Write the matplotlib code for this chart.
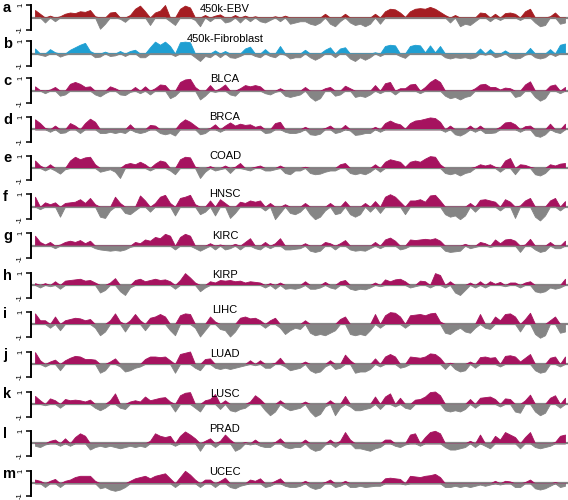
import matplotlib
matplotlib.use("Agg")
import matplotlib.pyplot as plt
import numpy as np

plt.rcParams['font.family'] = ['Liberation Sans', 'DejaVu Sans']

# panel letters and names
letters = ['a', 'b', 'c', 'd', 'e', 'f', 'g', 'h', 'i', 'j', 'k', 'l', 'm']
names = ['450k-EBV', '450k-Fibroblast', 'BLCA', 'BRCA', 'COAD', 'HNSC', 'KIRC',
         'KIRP', 'LIHC', 'LUAD', 'LUSC', 'PRAD', 'UCEC']

# values, one per 5 px step along the genome axis
ebv = [0.6, 0.3, -0.4, 0.15, -0.3, 0.1, 0.3, 0.4, 0.35, 0.5, 0.45, 0.6, 0.1, -0.9, -0.5, 0.4, 0.45, -0.1,
       -0.35, 0.2, 0.7, 0.95, 0.5, -0.6, 0.4, 0.55, 1.0, -0.3, -0.6, 0.7, 0.95, 0.8, -0.2, -0.7, 0.2, -0.3,
       0.15, 0.25, -0.4, -0.3, 0.2, -0.4, 0.15, -0.3, 0.1, -0.3, -0.4, -0.2, 0.1, -0.3, 0.15, -0.5, -0.4, -0.3,
       -0.3, -0.5, -0.6, -0.4, 0.3, -0.5, -0.7, -0.3, 0.3, -0.4, -0.6, -0.5, -0.7, -0.5, 0.3, -0.5, 0.5, 0.7,
       0.65, 0.4, 0.05, 0.5, 0.7, 0.75, 0.7, 0.85, 0.7, 0.45, 0.2, -0.4, 0.2, -0.7, -0.5, -0.6, -0.3, 0.4, 0.35,
       -0.3, 0.3, -0.2, 0.35, 0.4, 0.3, -0.2, 0.5, 0.7, -0.4, -0.7, -0.6, 0.1, 0.4, -0.5, -0.4]
fibro = [0.4, -0.1, -0.2, 0.35, 0.1, -0.25, -0.1, 0.3, 0.5, 0.7, 0.85, 0.2, -0.3, -0.25, 0.15, -0.2, -0.15, 0.2,
         -0.2, 0.2, 0.3, -0.3, -0.3, 0.5, 0.95, 0.7, 0.95, 0.6, -0.2, 0.9, 0.95, 0.9, -0.3, -0.6, -0.2, -0.3,
         0.25, -0.3, 0.2, -0.3, -0.35, -0.2, 0.4, 0.55, -0.2, -0.3, 0.35, -0.2, -0.3, 0.6, -0.1, -0.4, -0.3, -0.3,
         0.3, -0.3, -0.5, -0.3, 0.3, 0.5, -0.3, 0.4, 0.5, -0.4, -0.6, -0.3, -0.5, -0.3, 0.1, -0.2, 0.6, 0.7,
         0.65, -0.2, -0.35, 0.6, 0.7, 0.65, 0.1, 0.65, 0.1, 0.6, -0.3, -0.4, -0.3, -0.35, -0.3, -0.4, -0.3, 0.4,
         -0.1, 0.35, -0.3, -0.2, 0.25, -0.3, -0.4, -0.35, -0.1, 0.45, -0.3, -0.4, -0.3, 0.35, -0.2, 0.7, 0.8]
blca = [0.35, 0.05, -0.2, 0.1, 0.3, -0.4, -0.3, 0.55, 0.7, 0.55, 0.3, 0.35, -0.3, -0.45, -0.2, 0.35, 0.2, -0.3,
        -0.35, -0.1, 0.3, -0.2, 0.35, -0.3, 0.2, 0.5, 0.45, -0.6, -0.4, 0.7, 0.9, 0.95, 0.3, -0.7, -0.4, 0.45,
        -0.1, 0.2, 0.5, -0.3, -0.4, 0.2, 0.45, 0.35, 0.45, 0.35, -0.2, -0.3, -0.1, 0.2, -0.4, -0.5, -0.4, -0.3,
        0.3, -0.5, -0.8, -0.6, 0.2, 0.3, -0.4, -0.3, 0.4, 0.2, -0.5, -0.4, -0.5, -0.3, 0.45, -0.2, 0.6, 0.7,
        -0.3, 0.2, 0.2, 0.5, 0.55, -0.2, 0.3, 0.7, 0.95, 0.7, -0.4, -0.6, -0.5, -0.7, -0.5, -0.4, 0.2, 0.5,
        0.55, 0.3, 0.3, 0.1, 0.25, 0.2, -0.5, -0.4, 0.5, 0.75, -0.5, -0.8, -0.6, 0.4, 0.5, -0.2, 0.3]
brca = [0.8, 0.5, 0.1, -0.2, 0.3, -0.3, -0.25, 0.5, 0.3, -0.3, 0.5, 0.85, 0.6, -0.3, -0.3, -0.2, -0.3, -0.2,
        -0.3, 0.4, -0.2, -0.3, -0.2, 0.35, 0.3, -0.3, -0.4, -0.3, -0.5, 0.5, 0.8, 0.6, 0.3, -0.4, -0.3, 0.1,
        0.4, -0.2, 0.3, 0.55, 0.3, 0.45, 0.35, 0.4, 0.2, 0.3, -0.3, -0.25, 0.5, 0.6, -0.2, -0.3, -0.3, -0.2,
        0.2, -0.4, -0.45, -0.35, 0.1, 0.3, -0.3, -0.2, 0.35, -0.1, -0.45, -0.4, -0.3, -0.3, 0.2, -0.2, 0.5, 0.7,
        0.5, 0.4, 0.05, 0.5, 0.7, 0.75, 0.85, 0.95, 0.9, 0.6, -0.2, 0.3, -0.4, -0.5, -0.3, 0.3, -0.2, 0.3,
        -0.3, -0.3, -0.25, 0.2, 0.55, 0.6, 0.4, -0.2, 0.25, 0.3, -0.5, -0.6, -0.4, 0.45, -0.2, -0.3, 0.45]
coad = [0.6, 0.2, -0.2, 0.3, -0.2, -0.45, -0.1, 0.6, 0.9, 0.7, 0.85, 0.9, 0.3, -0.3, -0.2, -0.1, -0.3, -0.8,
        0.3, 0.4, 0.3, 0.5, 0.3, -0.2, 0.35, 0.6, 0.5, -0.2, -0.5, 0.7, 0.9, 0.85, 0.1, -0.8, -0.3, 0.15,
        -0.2, -0.1, 0.2, -0.4, 0.1, 0.4, -0.1, -0.2, 0.1, 0.2, -0.2, -0.2, -0.1, 0.2, -0.4, -0.5, -0.2, -0.2,
        0.1, -0.4, -0.5, -0.45, -0.3, -0.2, -0.2, 0.3, 0.4, -0.4, -0.5, -0.4, -0.5, -0.3, 0.3, -0.3, 0.5, 0.7,
        0.6, 0.5, 0.1, 0.5, 0.6, 0.5, 0.75, 0.95, 0.9, 0.3, -0.4, -0.5, -0.4, -0.6, -0.4, -0.3, 0.1, 0.3,
        0.2, 0.3, 0.1, -0.3, 0.6, 0.8, -0.5, 0.3, 0.25, 0.1, -0.5, -0.6, -0.4, 0.3, 0.2, 0.35, 0.4]
hnsc = [0.8, -0.2, 0.35, 0.2, 0.35, -0.8, 0.3, 0.35, 0.4, 0.6, 0.3, 0.7, 0.2, -0.8, -0.9, -0.3, 0.8, 0.3,
        -0.5, -0.6, -0.3, 0.9, 0.5, -0.4, 0.3, 0.8, 0.95, 0.3, -0.7, 0.7, 0.8, 0.95, 0.2, -0.6, -0.4, 0.5,
        -0.7, 0.6, 0.3, -0.9, -0.5, 0.4, 0.3, 0.5, 0.4, 0.5, -0.3, 0.3, -1.0, -0.5, 0.2, -0.5, -0.6, -0.4,
        0.3, -0.6, -1.0, -0.8, -0.3, 0.3, -0.6, -0.5, 0.45, -0.6, -0.8, -0.6, 0.3, -0.4, 0.45, -0.5, 0.8, 1.0,
        0.8, 0.4, -0.6, 0.5, 0.5, 0.6, 0.4, 0.9, 0.95, 0.5, -0.6, -0.8, -0.7, -1.0, -0.7, 0.3, -0.4, 0.55,
        0.6, 0.5, 0.4, -0.3, 0.6, 0.4, -0.9, 0.1, 0.5, 0.7, -0.8, -1.1, -0.7, 0.5, 0.7, -0.3, 0.45]
kirc = [0.8, 0.3, 0.1, 0.3, -0.2, 0.1, 0.3, 0.4, 0.3, 0.45, 0.2, 0.4, -0.2, -0.3, -0.35, -0.4, -0.35, -0.4,
        -0.3, -0.1, 0.3, 0.2, 0.5, 0.4, 0.7, 0.6, 0.95, 0.8, -0.3, 0.7, 0.95, 0.8, -0.2, -0.4, -0.2, 0.2,
        -0.3, 0.1, -0.3, -0.2, 0.15, -0.3, 0.3, 0.6, -0.2, -0.3, 0.3, -0.2, 0.2, 0.6, -0.3, -0.3, -0.25, -0.2,
        0.2, -0.4, -0.5, -0.4, 0.3, 0.2, -0.3, 0.2, 0.45, -0.3, -0.4, -0.35, -0.4, -0.2, 0.3, -0.2, 0.5, 0.65,
        0.4, -0.3, -0.2, 0.5, 0.45, 0.5, 0.55, 0.5, 0.6, 0.4, -0.4, -0.5, -0.45, -0.4, 0.15, -0.2, -0.1, 0.3,
        0.2, -0.1, 0.5, 0.2, 0.5, 0.55, 0.4, -0.5, 0.1, 0.55, -0.3, -0.5, -0.4, 0.3, -0.2, -0.2, 0.4]
kirp = [0.15, -0.2, 0.15, -0.1, 0.3, -0.3, 0.35, 0.4, 0.45, 0.5, 0.35, 0.4, 0.2, -0.6, -0.4, 0.2, 0.55, -0.5,
        -0.8, -0.2, 0.4, 0.5, 0.3, 0.4, 0.5, 0.4, 0.45, 0.3, -0.3, 0.4, 0.95, 0.6, 0.2, -0.5, -0.2, 0.3,
        0.2, 0.4, 0.35, 0.4, 0.3, 0.35, 0.2, 0.3, 0.25, 0.2, -0.2, 0.15, -0.3, 0.2, -0.3, -0.25, -0.3, -0.2,
        0.3, -0.3, -0.3, -0.2, 0.25, -0.2, -0.3, 0.3, 0.4, -0.3, -0.4, -0.3, -0.35, -0.2, 0.2, -0.1, 0.45, 0.3,
        0.45, 0.5, 0.3, -0.2, -0.1, 0.35, 0.3, -0.2, 0.95, 0.8, -0.2, 0.3, -0.6, -0.8, -0.4, 0.2, -0.2, 0.3,
        -0.2, 0.3, 0.1, 0.25, -0.1, 0.2, 0.2, -0.2, 0.2, 0.3, -0.5, -0.6, -0.5, -0.2, -0.3, -0.2, 0.5]
lihc = [0.85, 0.3, 0.3, -0.3, 0.6, -0.5, 0.3, 0.4, 0.5, 0.45, 0.3, 0.4, -0.3, -0.9, -0.6, 0.3, 0.85, 0.2,
        -0.6, 0.3, 0.8, 0.3, -0.5, 0.5, 0.6, 0.8, 0.6, -0.5, -0.9, 0.7, 0.85, 0.8, -0.3, -1.0, -0.5, 0.6,
        0.2, -0.4, -0.5, -1.0, -0.6, 0.5, 0.6, 0.45, 0.5, 0.3, -0.3, 0.3, 0.5, -0.3, -0.8, -0.5, -0.3, -0.4,
        0.3, -0.7, -0.9, -0.8, -0.9, -0.7, -0.5, 0.4, 0.6, -0.8, -0.9, -0.8, -0.9, -0.5, 0.8, -0.3, 0.7, 0.95,
        0.9, 0.6, -0.3, 0.7, 0.75, 0.8, 0.7, 0.85, 0.9, 0.2, -0.7, -0.8, -0.5, -0.3, -0.6, -0.7, -0.3, 0.8,
        -0.3, -0.4, 0.6, 0.3, 0.8, 0.85, 0.6, -0.6, 0.4, 0.9, -0.8, -1.1, -0.9, 0.3, 0.6, -0.7, -0.6]
luad = [0.95, 0.3, -0.2, 0.2, 0.35, -0.5, 0.3, 0.5, 0.65, 0.6, 0.4, 0.4, 0.35, -0.7, -0.5, 0.2, 0.45, -0.2,
        -0.6, -0.5, -0.3, -0.2, 0.4, 0.6, 0.6, 0.55, 0.6, 0.3, -0.7, 0.8, 0.9, 1.0, -0.3, -0.5, 0.4, 0.45,
        -0.3, -0.4, -0.3, -0.4, -0.3, -0.2, -0.1, 0.3, -0.1, 0.3, -0.3, -0.3, 0.1, 0.5, -0.2, -0.5, -0.4, -0.3,
        0.2, -0.5, -0.7, -0.6, -0.2, 0.3, -0.4, -0.3, 0.75, 0.3, -0.7, -0.6, -0.6, -0.4, 0.45, -0.2, 0.6, 0.8,
        0.6, -0.3, -0.2, 0.6, 0.55, 0.5, 0.6, 0.85, 0.8, 0.5, -0.4, 0.1, -0.4, -0.6, -0.5, 0.2, -0.3, 0.55,
        0.6, 0.5, 0.55, -0.2, 0.65, 0.7, 0.6, 0.2, 0.5, 0.8, -0.5, -0.7, -0.6, 0.5, 0.6, -0.2, 0.6]
lusc = [0.65, 0.3, -0.1, 0.45, 0.3, -0.3, 0.4, 0.3, 0.35, 0.3, 0.2, 0.35, -0.3, -0.5, -0.3, 0.3, 0.85, -0.3,
        -0.4, 0.2, 0.3, 0.2, 0.6, 0.3, 0.4, 0.5, 0.55, 0.2, -0.6, 0.7, 0.9, 0.95, -0.3, -0.6, 0.3, 0.4,
        0.8, -0.4, 0.3, -0.5, -0.6, -0.4, -0.3, 0.2, 0.7, 0.4, -0.5, -0.9, -0.6, 0.3, -0.3, -0.5, -0.4, -0.3,
        0.2, -0.6, -1.0, -0.8, -0.2, 0.3, -0.9, -0.3, 0.65, -0.2, -0.5, -0.5, -0.4, -0.3, 0.6, -0.4, 0.6, 0.85,
        -0.2, 0.5, -0.3, -0.4, 0.35, 0.4, 0.6, 0.95, 1.0, 0.7, -0.5, -0.6, -0.5, -0.6, -0.4, 0.4, -0.3, 0.5,
        0.55, 0.6, 0.4, -0.2, 0.45, 0.4, -0.6, -0.7, 0.3, 0.75, -0.6, -0.9, -0.7, 0.5, 0.7, -0.3, 0.5]
prad = [-0.2, -0.3, -0.1, 0.2, 0.3, -0.2, 0.4, -0.2, 0.5, 0.8, 0.6, -0.5, -0.3, -0.2, -0.3, -0.2, -0.3, -0.4,
        -0.3, -0.2, -0.3, -0.2, -0.3, 0.2, 0.8, 0.6, 0.5, 0.6, -0.2, 0.6, 0.95, 0.7, 0.4, -0.6, 0.2, 0.4,
        -0.3, 0.2, 0.7, 0.3, -0.6, -0.4, 0.1, -0.1, 0.3, -0.2, -0.3, -0.3, 0.1, 0.4, -0.3, -0.4, -0.3, -0.3,
        0.3, -0.4, -0.6, -0.5, -0.1, 0.3, -0.3, 0.2, 0.9, 0.3, -0.4, -0.4, -0.5, -0.6, -0.4, -0.3, 0.3, 0.3,
        -0.2, -0.3, -0.1, 0.7, 0.8, -0.2, 0.5, 0.9, 1.0, 0.8, -0.3, -0.5, -0.5, -0.4, -0.3, 0.2, -0.3, 0.7,
        -0.2, -0.4, 0.6, 0.3, 0.9, 0.7, 0.5, -0.4, 0.5, 0.9, -0.3, -0.4, -0.3, -0.2, 0.1, 0.6, 0.7]
ucec = [0.3, 0.2, -0.3, 0.2, 0.35, -0.3, 0.2, 0.3, 0.5, 0.6, 0.6, 0.6, 0.2, -0.4, -0.3, -0.5, -0.6, -0.5,
        -0.3, 0.2, 0.4, 0.5, 0.6, 0.4, 0.6, 0.7, 0.8, 0.4, -0.3, 0.5, 1.0, 0.7, 0.3, -0.3, 0.3, 0.3,
        -0.3, 0.2, 0.45, -0.3, -0.4, -0.2, -0.1, 0.3, 0.2, 0.4, -0.3, -0.2, 0.2, 0.4, -0.2, -0.3, -0.3, -0.2,
        0.2, -0.3, -0.45, -0.35, 0.1, 0.3, -0.3, -0.2, 0.2, -0.3, -0.3, -0.2, -0.3, -0.25, -0.2, -0.2, 0.4, 0.45,
        0.4, 0.35, -0.1, 0.6, 0.55, 0.5, 0.6, 0.65, 0.75, 0.5, -0.3, -0.3, -0.2, -0.3, -0.2, -0.3, -0.2, -0.1,
        -0.2, -0.1, 0.2, -0.1, 0.2, 0.15, -0.3, -0.3, 0.1, 0.3, -0.4, -0.5, -0.4, -0.2, 0.1, -0.3, -0.2]

series = [ebv, fibro, blca, brca, coad, hnsc, kirc, kirp, lihc, luad, lusc, prad, ucec]
pos_colors = ['#a51d22', '#1f9fd2'] + ['#a6135f'] * 11
neg_color = '#858585'

# layout: baseline of each panel (px from top) and where the name sits (data units)
baselines = [17.5, 53.5, 90.7, 129.3, 168, 206.7, 245.7, 285, 324, 364, 404, 443.3, 483.3]
title_y = [0.44, 0.92, 0.7, 0.74, 0.72, 0.78, 0.54, 0.56, 0.88, 0.56, 0.56, 0.9, 0.66]
W, H = 568, 500
px_per_unit = 12.5
half = 1.3
left_px = 31

fig = plt.figure(figsize=(W / 100, H / 100), dpi=100)

for letter, name, vals, col, base, ty in zip(letters, names, series, pos_colors, baselines, title_y):
    v = np.array(vals)
    x = np.arange(len(v))
    top = base - half * px_per_unit
    ax = fig.add_axes([left_px / W, (H - top - 2 * half * px_per_unit) / H, (W - left_px) / W,
                       2 * half * px_per_unit / H])
    ax.axhline(0, color=neg_color, lw=1.6, zorder=1)
    # positive and negative parts drawn separately so each bump keeps its width
    ax.fill_between(x, np.clip(v, 0, None), 0, color=col, lw=0.6, ec=col, zorder=2)
    ax.fill_between(x, np.clip(v, None, 0), 0, color=neg_color, lw=0.6, ec=neg_color, zorder=2)
    ax.set_xlim(-(35 - left_px) / 5, (W - 35) / 5)
    ax.set_ylim(-half, half)
    for s in ['top', 'right', 'bottom']:
        ax.spines[s].set_visible(False)
    ax.spines['left'].set_bounds(-1, 1)
    ax.spines['left'].set_linewidth(1.4)
    ax.set_xticks([])
    ax.set_yticks([-1, 1])
    ax.set_yticklabels(['-1', '1'], rotation=90, va='center', fontsize=5.5)
    ax.tick_params(axis='y', length=3.5, width=1.1, pad=1.5)
    ax.patch.set_alpha(0)
    ax.text(38, ty, name, ha='center', va='baseline', fontsize=8, clip_on=False)
    fig.text(3 / W, 1 - (base - 9.5) / H, letter, fontsize=10.5, fontweight='bold',
             ha='left', va='center')

fig.savefig('out.png', dpi=100)
